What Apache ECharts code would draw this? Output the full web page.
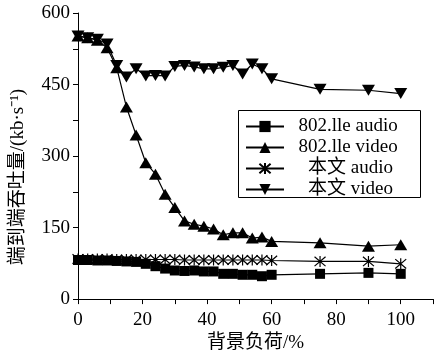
<!DOCTYPE html>
<html><head><meta charset="utf-8">
<script src="https://cdn.jsdelivr.net/npm/echarts@6/dist/echarts.min.js"></script>
<style>html,body{margin:0;padding:0;background:#fff}#c{width:435px;height:358px}</style>
</head><body><div id="c"></div>
<script>
const xs = [0,3,6,9,12,15,18,21,24,27,30,33,36,39,42,45,48,51,54,57,60,75,90,100];
const audio802 = [82,82,81,81,80,79,78,74,69,64,60,59,60,58,58,53,53,51,51,48,51,53,55,53];
const video802 = [552,548,543,527,485,403,344,286,262,220,192,164,157,153,147,135,139,139,128,130,121,118,111,114];
const audioOurs = [84,84,84,84,83,83,83,83,83,83,83,82,82,82,82,82,82,82,82,82,81,79,79,74];
const videoOurs = [552,548,545,535,490,466,483,468,469,468,488,490,487,483,483,486,490,472,493,483,462,440,438,431];
const seriesNames = ['802.lle audio','802.lle video','本文 audio','本文 video'];
const xTitle = '背景负荷/%';
const yTitle = '端到端吞吐量/(kb·s⁻¹)';

const FONT = "'Liberation Serif','Noto Sans CJK SC',serif";
const pair = a => xs.map((x,i)=>[x,a[i]]);
const asterisk = 'path://M0,-5L0,5M-4.3,-4.3L4.3,4.3M-4.3,4.3L4.3,-4.3';
const base = {type:'line', lineStyle:{color:'#000', width:1.2}, itemStyle:{color:'#000'}, symbolSize:10};
const chart = echarts.init(document.getElementById('c'), null, {renderer:'canvas'});
chart.setOption({
  animation:false,
  textStyle:{fontFamily:FONT},
  grid:{left:78, right:2, top:13, bottom:53},
  xAxis:{type:'value', min:0, max:110, interval:20,
    axisLine:{lineStyle:{color:'#000', width:1}},
    axisTick:{show:true, length:5, lineStyle:{color:'#000'}},
    minorTick:{show:true, splitNumber:2, length:5, lineStyle:{color:'#000'}},
    splitLine:{show:false},
    axisLabel:{color:'#000', fontSize:19, fontFamily:FONT, margin:11, showMaxLabel:false},
    name:xTitle, nameLocation:'middle', nameGap:31,
    nameTextStyle:{color:'#000', fontSize:19, fontFamily:FONT}},
  yAxis:{type:'value', min:0, max:600, interval:150,
    axisLine:{show:true, lineStyle:{color:'#000', width:1}},
    axisTick:{show:true, length:5, lineStyle:{color:'#000'}},
    minorTick:{show:true, splitNumber:2, length:5, lineStyle:{color:'#000'}},
    splitLine:{show:false},
    axisLabel:{color:'#000', fontSize:19, fontFamily:FONT, margin:8}},
  legend:{orient:'vertical', left:245, top:117, padding:0, itemGap:2, itemWidth:38, itemHeight:14,
    data:seriesNames,
    formatter: n => (n.startsWith('本') ? '    ' : '  ') + n,
    textStyle:{color:'#000', fontSize:19, fontFamily:FONT, lineHeight:18}},
  graphic:[
    {type:'rect', shape:{x:238.5, y:110.5, width:182, height:87}, style:{fill:'#fff', stroke:'#000', lineWidth:1}, z:-1},
    {type:'text', x:18, y:177, rotation:Math.PI/2, style:{text:yTitle, fontSize:19, fontFamily:FONT, fill:'#000', align:'center', verticalAlign:'middle'}}
  ],
  series:[
    Object.assign({}, base, {name:seriesNames[0], data:pair(audio802), symbol:'rect', symbolSize:10}),
    Object.assign({}, base, {name:seriesNames[1], data:pair(video802), symbol:'triangle', symbolSize:[13,11]}),
    Object.assign({}, base, {name:seriesNames[2], data:pair(audioOurs), symbol:asterisk, symbolSize:11,
       itemStyle:{color:'none', borderColor:'#000', borderWidth:1.2}}),
    Object.assign({}, base, {name:seriesNames[3], data:pair(videoOurs), symbol:'triangle', symbolRotate:180, symbolSize:[13,11]})
  ]
});
</script></body></html>
